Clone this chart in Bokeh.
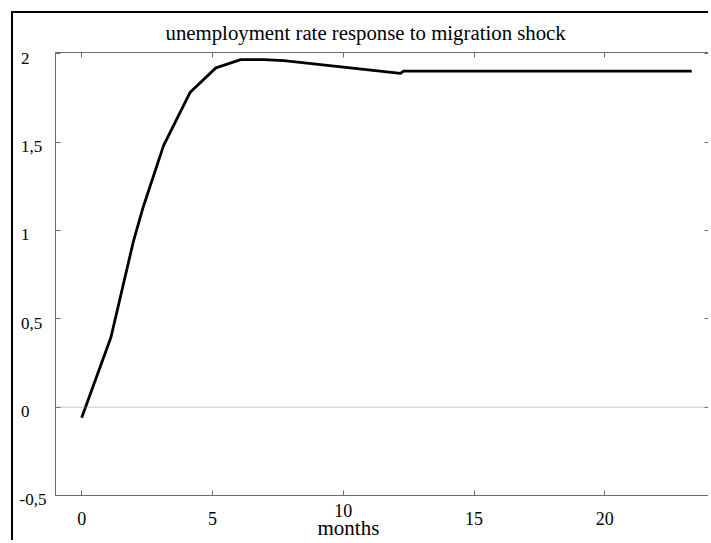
from bokeh.plotting import figure
from bokeh.models import Range1d, LinearAxis, FixedTicker, Span, Title
from bokeh.embed import file_html
from bokeh.resources import INLINE

# ---- data ----
months = [0, 1.12, 1.97, 2.35, 3.13, 4.15, 5.13, 6.08, 6.97, 7.73, 12.19, 12.3, 23.32]
response = [-0.06, 0.396, 0.934, 1.132, 1.481, 1.783, 1.921, 1.968, 1.968, 1.962,
            1.890, 1.902, 1.902]
x_ticks = [0, 5, 10, 15, 20]
x_tick_labels = ["0", "5", "10", "15", "20"]
y_ticks = [-0.5, 0, 0.5, 1, 1.5, 2]
y_tick_labels = ["-0,5", "0", "0,5", "1", "1,5", "2"]
title_text = "unemployment rate response to migration shock"
x_label = "months"

FONT = "Liberation Serif"
FRAME = "#6a6a6a"

p = figure(width=697, height=529,
           x_range=Range1d(-1, 24), y_range=Range1d(-0.5, 2.008),
           output_backend="svg", toolbar_location=None,
           x_axis_location=None, y_axis_location=None,
           min_border_left=42, min_border_right=1,
           min_border_top=39, min_border_bottom=47)
p.margin = (11, 0, 0, 11)
p.styles = {"border-left": "2px solid black", "border-top": "2px solid black"}
p.grid.grid_line_color = None
p.outline_line_color = FRAME
p.outline_line_width = 1
p.background_fill_color = "white"
p.border_fill_color = "white"


def make_axis(ticks, labels=None):
    ax = LinearAxis(ticker=FixedTicker(ticks=ticks))
    ax.axis_line_color = None
    ax.major_tick_line_color = FRAME
    ax.major_tick_in = 5
    ax.major_tick_out = 0
    ax.minor_tick_line_color = None
    ax.major_label_text_font = FONT
    ax.major_label_text_color = "black"
    if labels is None:
        ax.major_label_overrides = {t: "" for t in ticks}
        ax.major_label_text_font_size = "0px"
        ax.major_label_standoff = 0
    else:
        ax.major_label_overrides = dict(zip(ticks, labels))
    return ax


# bottom axis: the "10" label sits higher than the others in the reference
bottom = make_axis(x_ticks, [lbl if lbl == "10" else "\n" + lbl for lbl in x_tick_labels])
bottom.major_label_text_font_size = "18px"
bottom.major_label_text_line_height = 0.42
bottom.major_label_standoff = 5
p.add_layout(bottom, "below")


# left axis: labels are left-aligned in the reference, so each label is padded
# with trailing no-break spaces to about the width of the widest one ("-0,5")
def pad_label(lbl):
    n = 0 if lbl.startswith("-") else (1 if "," in lbl else 4)
    return "\n" + lbl + "\u00a0" * n


left = make_axis(y_ticks, [pad_label(lbl) for lbl in y_tick_labels])
left.major_label_text_font_size = "17px"
left.major_label_text_line_height = 0.45
left.major_label_standoff = 9
p.add_layout(left, "left")

p.add_layout(make_axis(x_ticks), "above")
p.add_layout(make_axis(y_ticks), "right")

# titles (text above the frame and the x label below it)
p.add_layout(Title(text=title_text, align="left", offset=110, standoff=13,
                   vertical_align="top",
                   text_font=FONT, text_font_size="20.8px", text_font_style="normal",
                   text_color="black"), "above")
p.add_layout(Title(text=x_label, align="left", offset=262, standoff=-31,
                   vertical_align="top",
                   text_font=FONT, text_font_size="21px", text_font_style="normal",
                   text_color="black"), "below")

# zero line
p.add_layout(Span(location=0, dimension="width", line_color="#8c8c8c",
                  line_dash="1 1", line_width=1))

# response curve
p.line(months, response, line_color="black", line_width=2.8, line_join="round")

open("out.html", "w").write(file_html(p, INLINE))
